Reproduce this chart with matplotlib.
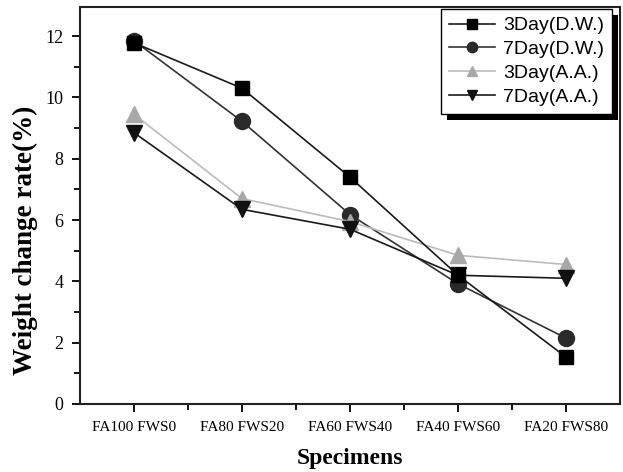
import matplotlib
matplotlib.use("Agg")
import matplotlib.pyplot as plt
from matplotlib.patches import Rectangle
import numpy as np

# data
specimens = ["FA100 FWS0", "FA80 FWS20", "FA60 FWS40", "FA40 FWS60", "FA20 FWS80"]
day3_dw = [11.78, 10.3, 7.4, 4.2, 1.53]
day7_dw = [11.85, 9.22, 6.18, 3.92, 2.15]
day3_aa = [9.45, 6.7, 5.95, 4.85, 4.55]
day7_aa = [8.85, 6.35, 5.7, 4.2, 4.1]

x = np.arange(1, len(specimens) + 1)

fig = plt.figure(figsize=(6.23, 4.72), dpi=100)
ax = fig.add_axes([80/623, 68/472, 540/623, 397/472])

ms = 11.5
ax.plot(x, day3_dw, color="#1a1a1a", lw=1.2, marker="s", ms=ms-1, mfc="black", mec="black",
        label="3Day(D.W.)", zorder=4)
ax.plot(x, day7_dw, color="#333333", lw=1.2, marker="o", ms=ms, mfc="#2a2a2a", mec="#2a2a2a",
        label="7Day(D.W.)", zorder=3)
ax.plot(x, day3_aa, color="#bbbbbb", lw=1.2, marker="^", ms=ms, mfc="#a8a8a8", mec="#a8a8a8",
        label="3Day(A.A.)", zorder=3)
ax.plot(x, day7_aa, color="#1a1a1a", lw=1.2, marker="v", ms=ms, mfc="#111111", mec="#111111",
        label="7Day(A.A.)", zorder=3)

ax.set_xlim(0.5, 5.5)
ax.set_ylim(0, 12.95)
ax.set_xticks(x)
ax.set_xticklabels(specimens, family="Liberation Serif", fontsize=11)
ax.set_xticks(np.arange(1.5, 5.5, 1), minor=True)
ax.set_yticks(np.arange(0, 13, 2))
ax.set_yticks(np.arange(1, 13, 2), minor=True)
for lab in ax.get_yticklabels():
    lab.set_family("Liberation Serif")
    lab.set_fontsize(13)
ax.tick_params(which="major", direction="out", length=6, width=1.3, top=False, right=False, pad=6)
ax.tick_params(which="minor", direction="out", length=4, width=1.3, top=False, right=False)
for s in ax.spines.values():
    s.set_linewidth(1.5)
    s.set_color("#222222")

ax.set_xlabel("Specimens", family="Liberation Serif", fontsize=17, fontweight="bold", labelpad=10)
ax.set_ylabel("Weight change rate(%)", family="Liberation Serif", fontsize=19.5, fontweight="bold")
ax.yaxis.set_label_coords(-0.077, 0.413)

leg = ax.legend(loc="upper right", bbox_to_anchor=(0.985, 0.995), frameon=True, fancybox=False,
                framealpha=1.0, facecolor="white", markerscale=0.65,
                prop={"family": "Liberation Sans", "size": 14}, handlelength=2.4, handletextpad=0.4,
                borderpad=0.4, labelspacing=0.32, borderaxespad=0.0)
leg.get_frame().set_edgecolor("black")
leg.get_frame().set_linewidth(1.0)
leg.set_zorder(10)

# drop shadow behind legend box
fig.canvas.draw()
bb = leg.get_window_extent()
shadow = Rectangle((bb.x0 + 6, bb.y0 - 6), bb.width, bb.height, transform=None,
                   facecolor="black", edgecolor="none", zorder=9)
ax.add_artist(shadow)

fig.savefig("out.png", dpi=100)
